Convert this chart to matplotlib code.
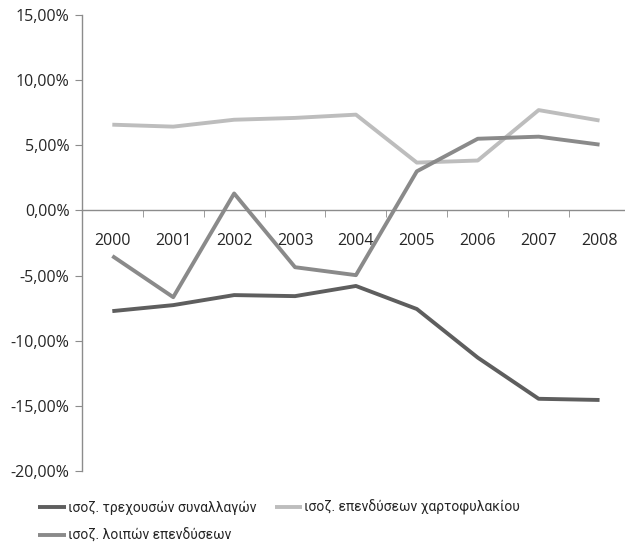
import matplotlib
matplotlib.use("Agg")
import matplotlib.pyplot as plt
from matplotlib.ticker import FuncFormatter

plt.rcParams['font.family'] = ['Open Sans', 'DejaVu Sans']

years = ['2000', '2001', '2002', '2003', '2004', '2005', '2006', '2007', '2008']
current_account = [-7.73, -7.27, -6.50, -6.58, -5.80, -7.57, -11.30, -14.46, -14.55]
portfolio = [6.58, 6.43, 6.96, 7.10, 7.35, 3.67, 3.83, 7.70, 6.90]
other_invest = [-3.50, -6.66, 1.30, -4.36, -4.97, 3.00, 5.50, 5.66, 5.05]

labels = ['ισοζ. τρεχουσών συναλλαγών',
          'ισοζ. επενδύσεων χαρτοφυλακίου',
          'ισοζ. λοιπών επενδύσεων']
colors = ['#5e5e5e', '#bdbdbd', '#8a8a8a']

fig = plt.figure(figsize=(6.25, 5.47), dpi=100)
ax = fig.add_axes([0.131, 0.139, 0.877, 0.8336])

x = list(range(len(years)))
l1, = ax.plot(x, current_account, color=colors[0], lw=2.8, solid_capstyle='butt')
l2, = ax.plot(x, portfolio, color=colors[1], lw=2.8, solid_capstyle='butt')
l3, = ax.plot(x, other_invest, color=colors[2], lw=2.8, solid_capstyle='butt')

ax.set_ylim(-20, 15)
ax.set_xlim(-0.5, 8.5)
ax.set_yticks([-20, -15, -10, -5, 0, 5, 10, 15])
ax.yaxis.set_major_formatter(FuncFormatter(lambda v, p: f'{v:.2f}%'.replace('.', ',')))

ax.spines['top'].set_visible(False)
ax.spines['right'].set_visible(False)
ax.spines['bottom'].set_position(('data', 0))
for s in ('left', 'bottom'):
    ax.spines[s].set_color('#8c8c8c')
    ax.spines[s].set_linewidth(1.0)

ax.set_xticks(x)
ax.set_xticklabels(years)
ax.set_xticks([i + 0.5 for i in range(-1, len(years))], minor=True)
ax.tick_params(axis='x', which='major', length=0, pad=16, labelsize=11.5, labelcolor='#262626')
ax.tick_params(axis='x', which='minor', length=5, color='#8c8c8c', direction='out')
ax.tick_params(axis='y', length=5, color='#8c8c8c', labelsize=11.5, labelcolor='#262626', pad=4)

leg = fig.legend([l1, l3, l2], [labels[0], labels[2], labels[1]], ncol=2,
                 loc='upper left', bbox_to_anchor=(0.061, 0.086), frameon=False,
                 prop={'family': ['Roboto', 'DejaVu Sans'], 'size': 10},
                 handlelength=2.0, handletextpad=0.15,
                 columnspacing=1.3, labelspacing=1.0, borderaxespad=0, borderpad=0)
for t in leg.get_texts():
    t.set_color('#262626')

fig.savefig('out.png', dpi=100)
